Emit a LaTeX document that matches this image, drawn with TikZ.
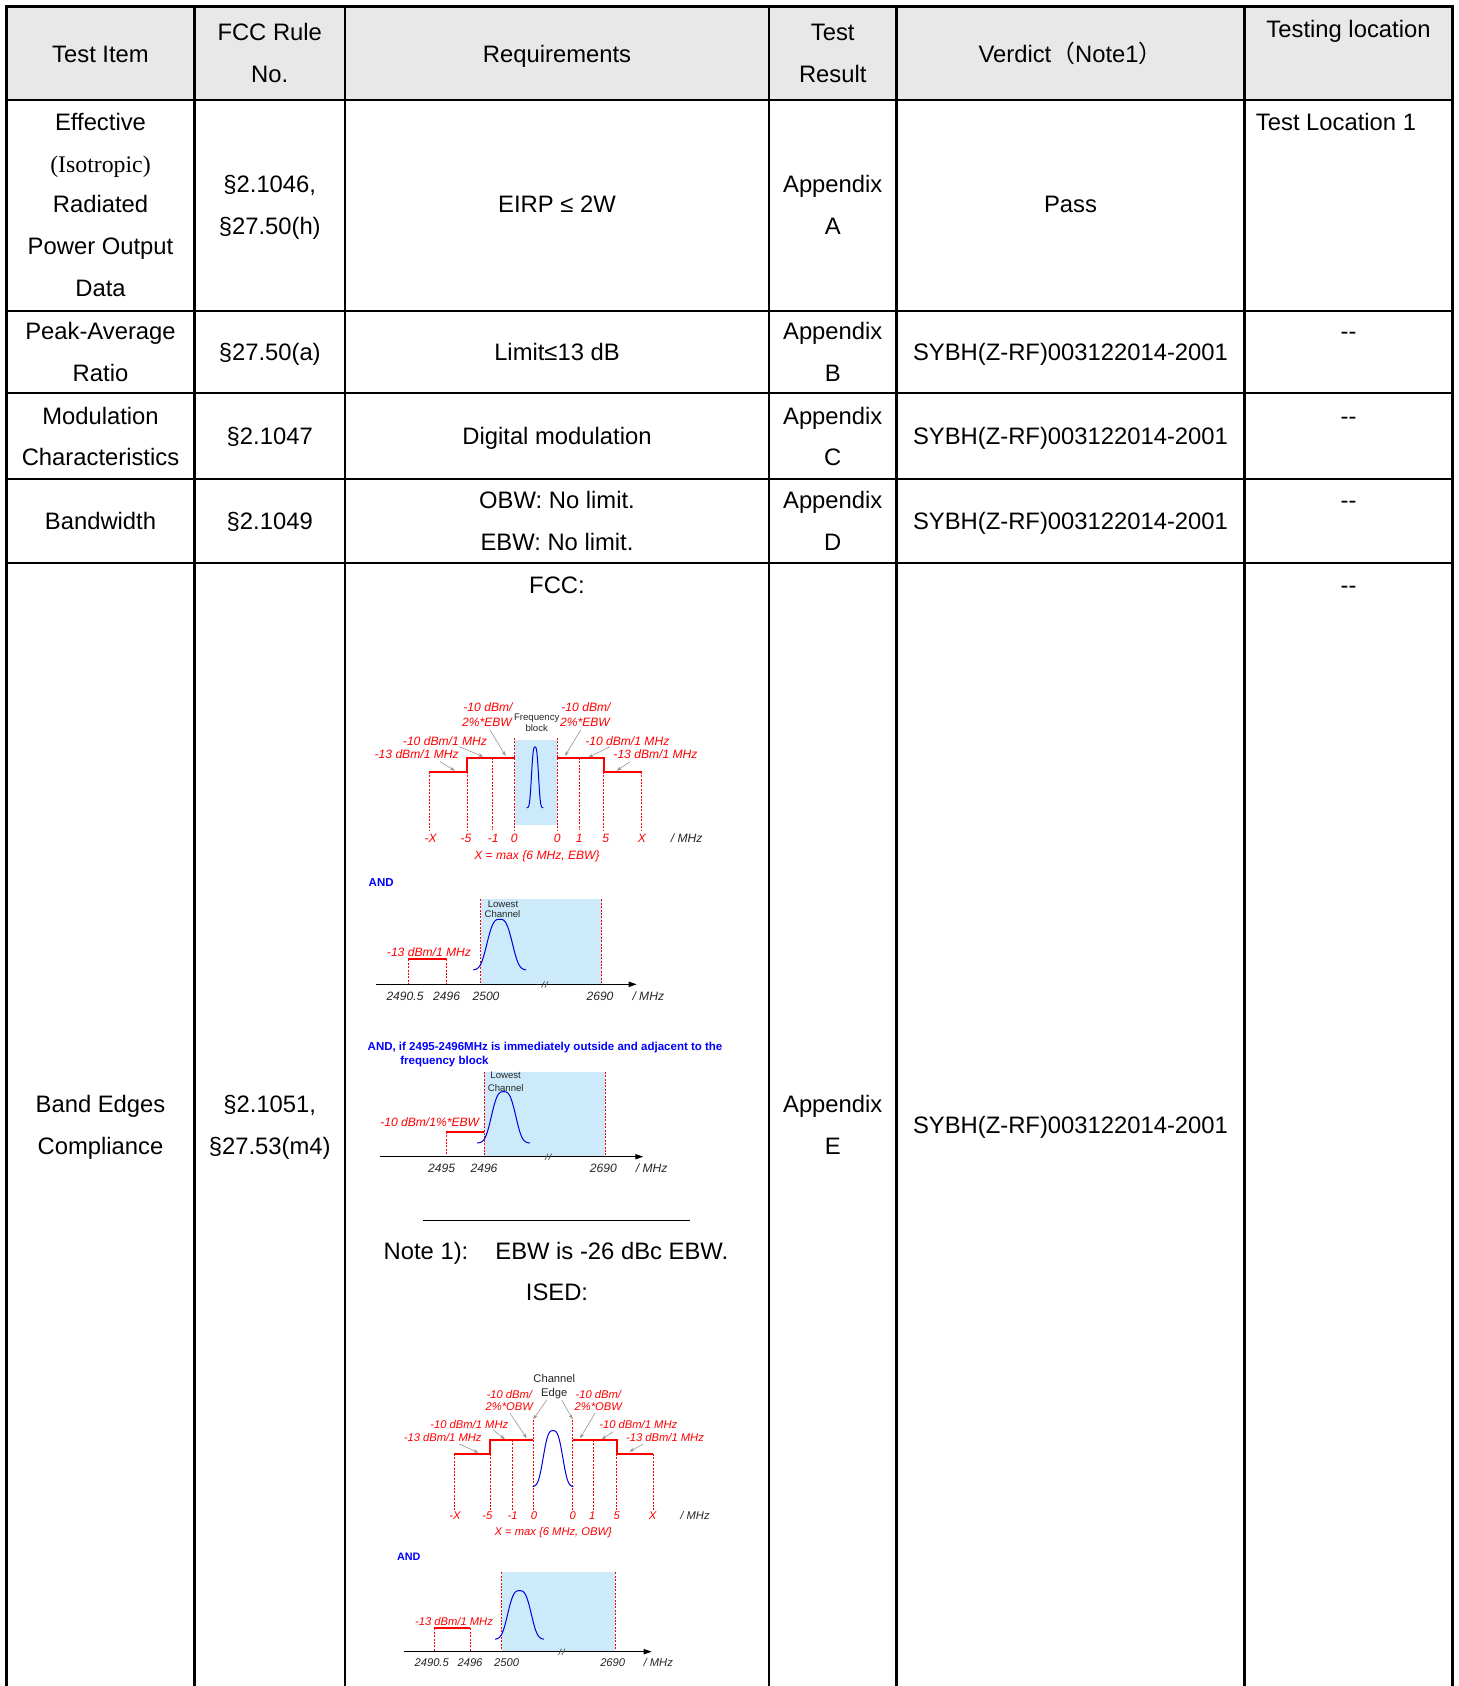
\documentclass[tikz,border=0pt]{standalone}
\usepackage{fontspec}
\setmainfont{Liberation Sans}
\newfontfamily\serifx{Liberation Serif}
\newfontfamily\cjk{Noto Sans CJK SC}
\usetikzlibrary{arrows.meta}
\definecolor{hdrgrey}{RGB}{232,232,232}
\definecolor{bandblue}{RGB}{204,234,250}
\definecolor{txtblue}{RGB}{0,0,255}
\definecolor{curveblue}{RGB}{0,0,220}
\definecolor{ptrgrey}{RGB}{150,150,150}
\tikzset{
  cell/.style={anchor=base, inner sep=0pt, font=\fontsize{11.9}{14}\selectfont},
  innerline/.style={line width=1.2pt, draw=black},
  outerline/.style={line width=1.8pt, draw=black, line join=miter},
  lblR/.style={anchor=base, inner sep=0pt, text=red, font=\fontsize{6.05}{7}\selectfont\itshape},
  lblK/.style={anchor=base, inner sep=0pt, text=black!85, font=\fontsize{6.05}{7}\selectfont\itshape},
  lblRs/.style={anchor=base, inner sep=0pt, text=red, font=\fontsize{5.6}{7}\selectfont\itshape},
  lblKs/.style={anchor=base, inner sep=0pt, text=black!85, font=\fontsize{5.6}{7}\selectfont\itshape},
  tinyK/.style={anchor=base, inner sep=0pt, text=black!85, font=\fontsize{4.8}{5}\selectfont},
  tinyKb/.style={anchor=base, inner sep=0pt, text=black!85, font=\fontsize{5.6}{6}\selectfont},
  andtxt/.style={anchor=base west, inner sep=0pt, text=txtblue, font=\fontsize{5.75}{6}\selectfont\bfseries},
  redstep/.style={draw=red, line width=0.85pt},
  reddash/.style={draw=red, line width=0.35pt, dash pattern=on 1pt off 0.7pt},
  curve/.style={draw=curveblue, line width=0.5pt},
  ptr/.style={draw=ptrgrey, line width=0.3pt, -{Stealth[length=2.5pt,width=1.8pt]}},
  axisline/.style={draw=black, line width=0.5pt, -{Triangle[length=4pt,width=2.6pt]}},
  brk/.style={draw=black!70, line width=0.35pt},
}
\begin{document}
\begin{tikzpicture}[x=0.5pt,y=-0.5pt]
\useasboundingbox (0,0) rectangle (1459,1686);
\fill[white] (0,0) rectangle (1459,1686);
% ---------------- table ----------------
\fill[hdrgrey] (6.5,6.5) rectangle (1452.5,100);
\foreach \yy in {100,311,393,479,563} \draw[innerline] (6.5,\yy) -- (1452.5,\yy);
\foreach \xx in {194.5,345,769,896.5,1244.5} \draw[innerline] (\xx,6.5) -- (\xx,1700);
\draw[outerline] (6.5,1700) -- (6.5,6.5) -- (1452.5,6.5) -- (1452.5,1700);
% header
\node[cell] (hA) at (100.5,62.7) {Test Item};
\node[cell] (hB1) at (269.75,41) {FCC Rule};
\node[cell] (hB2) at (269.75,83) {No.};
\node[cell] (hC) at (557,63) {Requirements};
\node[cell] (hD1) at (832.75,41) {Test};
\node[cell] (hD2) at (832.75,83) {Result};
\node[cell] (hE) at (1070.5,63) {Verdict{\cjk （}Note1{\cjk ）}};
\node[cell] (hF) at (1348.5,38) {Testing location};
% row 1
\node[cell] (r1a1) at (100.5,130.3) {Effective};
\node[cell] (r1a2) at (100.5,172.1) {\serifx (Isotropic)};
\node[cell] (r1a3) at (100.5,212.9) {Radiated};
\node[cell] (r1a4) at (100.5,254.7) {Power Output};
\node[cell] (r1a5) at (100.5,296.6) {Data};
\node[cell] (r1b1) at (269.75,192.5) {§2.1046,};
\node[cell] (r1b2) at (269.75,234) {§27.50(h)};
\node[cell] (r1c) at (557,213) {EIRP ≤ 2W};
\node[cell] (r1d1) at (832.75,192.5) {Appendix};
\node[cell] (r1d2) at (832.75,234) {A};
\node[cell] (r1e) at (1070.5,213) {Pass};
\node[cell] (r1f) at (1336,130.3) {Test Location 1};
% row 2
\node[cell] (r2a1) at (100.5,339.5) {Peak-Average};
\node[cell] (r2a2) at (100.5,381) {Ratio};
\node[cell] (r2b) at (269.75,360) {§27.50(a)};
\node[cell] (r2c) at (557,360) {Limit≤13 dB};
\node[cell] (r2d1) at (832.75,339.5) {Appendix};
\node[cell] (r2d2) at (832.75,381) {B};
\node[cell] (r2e) at (1070.5,360) {SYBH(Z-RF)003122014-2001};
\node[cell] (r2f) at (1348.5,339.5) {-{}-};
% row 3
\node[cell] (r3a1) at (100.5,424) {Modulation};
\node[cell] (r3a2) at (100.5,465) {Characteristics};
\node[cell] (r3b) at (269.75,444.6) {§2.1047};
\node[cell] (r3c) at (557,444.6) {Digital modulation};
\node[cell] (r3d1) at (832.75,424) {Appendix};
\node[cell] (r3d2) at (832.75,465) {C};
\node[cell] (r3e) at (1070.5,444.6) {SYBH(Z-RF)003122014-2001};
\node[cell] (r3f) at (1348.5,424) {-{}-};
% row 4
\node[cell] (r4a) at (100.5,529) {Bandwidth};
\node[cell] (r4b) at (269.75,529) {§2.1049};
\node[cell] (r4c1) at (557,508) {OBW: No limit.};
\node[cell] (r4c2) at (557,550) {EBW: No limit.};
\node[cell] (r4d1) at (832.75,508) {Appendix};
\node[cell] (r4d2) at (832.75,550) {D};
\node[cell] (r4e) at (1070.5,529) {SYBH(Z-RF)003122014-2001};
\node[cell] (r4f) at (1348.5,508) {-{}-};
% row 5
\node[cell] (r5c) at (557,593) {FCC:};
\node[cell] (r5f) at (1348.5,593) {-{}-};
\node[cell] (r5a1) at (100.5,1112) {Band Edges};
\node[cell] (r5a2) at (100.5,1154) {Compliance};
\node[cell] (r5b1) at (269.75,1112) {§2.1051,};
\node[cell] (r5b2) at (269.75,1154) {§27.53(m4)};
\node[cell] (r5d1) at (832.75,1112) {Appendix};
\node[cell] (r5d2) at (832.75,1154) {E};
\node[cell] (r5e) at (1070.5,1133) {SYBH(Z-RF)003122014-2001};
\draw[line width=0.5pt] (423.3,1220) -- (690,1220);
\node[cell, anchor=base west] (note1) at (383.3,1259) {Note 1):};
\node[cell, anchor=base west] (note2) at (495,1259) {EBW is -26 dBc EBW.};
\node[cell] (ised) at (557,1300) {ISED:};
% ---------------- diagram 1 (FCC mask) ----------------
\fill[bandblue] (515,740) rectangle (556.7,825);
\foreach \xx/\yt in {514.5/738,557/738,429.3/771.7,467.3/771.7,492.3/757.7,579/757.7,603.7/771.7,641.7/771.7}
  \draw[reddash] (\xx,\yt) -- (\xx,830);
\draw[redstep] (429.3,771.7) -- (467.3,771.7) -- (467.3,757.7) -- (514.5,757.7);
\draw[redstep] (557,757.7) -- (603.7,757.7) -- (603.7,771.7) -- (641.7,771.7);
\draw[curve] plot[domain=-8.3:8.3, samples=60] ({535+\x},{807.7-60.7*exp(-(abs(\x)/4.1)*(abs(\x)/4.1)*(abs(\x)/4.1))});
\node[lblR] (d1a) at (488,711.1) {-10 dBm/};
\node[lblR] (d1b) at (487,726.1) {2\%*EBW};
\node[lblR] (d1c) at (586,711.1) {-10 dBm/};
\node[lblR] (d1d) at (585,726.1) {2\%*EBW};
\node[tinyK] (d1e) at (536.7,720.2) {Frequency};
\node[tinyK] (d1f) at (536.7,731.8) {block};
\node[lblR] (d1g) at (445,745.1) {-10 dBm/1 MHz};
\node[lblR] (d1h) at (416.7,758.4) {-13 dBm/1 MHz};
\node[lblR] (d1i) at (627.3,745.1) {-10 dBm/1 MHz};
\node[lblR] (d1j) at (655.5,758.4) {-13 dBm/1 MHz};
\draw[ptr] (440,761.7) -- (455,770.7);
\draw[ptr] (459.3,746.7) -- (483.3,756.7);
\draw[ptr] (490,730) -- (505.7,756);
\draw[ptr] (580.7,730) -- (565,756);
\draw[ptr] (610,746.7) -- (588.3,757.3);
\draw[ptr] (630,761.7) -- (616.7,770.7);
\foreach \xx/\tt [count=\i] in {430.7/-X,466/-5,493.3/-1,514.3/0,557.3/0,579.3/1,605.7/5,642/X}
  \node[lblR] (d1x\i) at (\xx,842.7) {\tt};
\node[lblK] (d1u) at (686.7,842.7) {/ MHz};
\node[lblR] (d1m) at (537,859.4) {X = max \{6 MHz, EBW\}};
% ---------------- diagram 2 ----------------
\node[andtxt] (and1) at (368.3,886.4) {AND};
\fill[bandblue] (480.7,899.3) rectangle (601.7,984.3);
\draw[reddash] (480.7,899.3) -- (480.7,984.3);
\draw[reddash] (601.7,899.3) -- (601.7,984.3);
\draw[reddash] (408.3,959.3) -- (408.3,984.3);
\draw[reddash] (446.7,959.3) -- (446.7,984.3);
\draw[redstep] (408.3,959.3) -- (446.7,959.3);
\draw[axisline] (376,984.3) -- (636.7,984.3);
\draw[brk] (541.5,987.5) -- (544.5,981.3);
\draw[brk] (545,987.5) -- (548,981.3);
\draw[curve] plot[domain=-26.5:26.5, samples=80] ({499.7+\x},{970-50.7*exp(-(abs(\x)/14.7)*(abs(\x)/14.7)*(abs(\x)/14.7))});
\node[tinyK] (d2l1) at (503,907.5) {Lowest};
\node[tinyK] (d2l2) at (502.5,917.8) {Channel};
\node[lblR] (d2r) at (429,956.1) {-13 dBm/1 MHz};
\foreach \xx/\tt [count=\i] in {405/2490.5,446.7/2496,486/2500,600/2690,648.3/{/ MHz}}
  \node[lblK] (d2x\i) at (\xx,1000.4) {\tt};
% ---------------- diagram 3 ----------------
\node[andtxt] (and2a) at (367.3,1050.1) {AND, if 2495-2496MHz is immediately outside and adjacent to the};
\node[andtxt] (and2b) at (400,1064.1) {frequency block};
\fill[bandblue] (484,1071.7) rectangle (605,1156.7);
\draw[reddash] (484,1071.7) -- (484,1156.7);
\draw[reddash] (605,1071.7) -- (605,1156.7);
\draw[reddash] (446,1131.7) -- (446,1156.7);
\draw[redstep] (446,1131.7) -- (484,1131.7);
\draw[axisline] (380,1156.7) -- (643.3,1156.7);
\draw[brk] (545,1159.9) -- (548,1153.7);
\draw[brk] (548.5,1159.9) -- (551.5,1153.7);
\draw[curve] plot[domain=-26.4:26.4, samples=80] ({503.6+\x},{1143-51.3*exp(-(abs(\x)/14.1)*(abs(\x)/14.1)*(abs(\x)/14.1))});
\node[tinyK] (d3l1) at (505.7,1078.5) {Lowest};
\node[tinyK] (d3l2) at (505.7,1091.2) {Channel};
\node[lblR] (d3r) at (429.7,1126.1) {-10 dBm/1\%*EBW};
\foreach \xx/\tt [count=\i] in {441.7/2495,484/2496,603.3/2690,651.7/{/ MHz}}
  \node[lblK] (d3x\i) at (\xx,1172.7) {\tt};
% ---------------- diagram 4 (ISED mask) ----------------
\foreach \xx/\yt in {533.3/1420,572.7/1420,454/1454,490/1454,512.7/1440,593.3/1440,616.7/1454,653.3/1454}
  \draw[reddash] (\xx,\yt) -- (\xx,1510);
\draw[redstep] (454,1454) -- (490,1454) -- (490,1440) -- (533.3,1440);
\draw[redstep] (572.7,1440) -- (616.7,1440) -- (616.7,1454) -- (653.3,1454);
\draw[curve] plot[domain=-20.3:20.3, samples=80] ({553+\x},{1486.7-56*exp(-(abs(\x)/11.3)*(abs(\x)/11.3)*(abs(\x)/11.3))});
\node[tinyKb] (d4c1) at (554.3,1382.3) {Channel};
\node[tinyKb] (d4c2) at (554.3,1396.3) {Edge};
\node[lblRs] (d4a) at (509.3,1398.3) {-10 dBm/};
\node[lblRs] (d4b) at (509.3,1410.7) {2\%*OBW};
\node[lblRs] (d4c) at (598.3,1398.3) {-10 dBm/};
\node[lblRs] (d4d) at (598.3,1410.7) {2\%*OBW};
\node[lblRs] (d4g) at (469.3,1428) {-10 dBm/1 MHz};
\node[lblRs] (d4h) at (442.7,1441.3) {-13 dBm/1 MHz};
\node[lblRs] (d4i) at (638.3,1428) {-10 dBm/1 MHz};
\node[lblRs] (d4j) at (665,1441.3) {-13 dBm/1 MHz};
\draw[ptr] (546.7,1400) -- (533.3,1419.3);
\draw[ptr] (561.7,1400) -- (572.7,1419.3);
\draw[ptr] (510,1413.3) -- (526.7,1438.3);
\draw[ptr] (595,1413.3) -- (580,1438.3);
\draw[ptr] (493.3,1430) -- (505,1439.3);
\draw[ptr] (613.3,1431.7) -- (601.7,1439.3);
\draw[ptr] (459.3,1444) -- (478.3,1452.7);
\draw[ptr] (643.3,1444) -- (629.3,1451.7);
\foreach \xx/\tt [count=\i] in {455/-X,487.3/-5,512.7/-1,534/0,572.7/0,592.3/1,616.7/5,652.7/X}
  \node[lblRs] (d4x\i) at (\xx,1519) {\tt};
\node[lblKs] (d4u) at (695,1519) {/ MHz};
\node[lblRs] (d4m) at (553.3,1535.7) {X = max \{6 MHz, OBW\}};
% ---------------- diagram 5 ----------------
\node[andtxt, font=\fontsize{5.4}{6}\selectfont\bfseries] (and3) at (396.7,1560) {AND};
\fill[bandblue] (501.7,1572.3) rectangle (615,1651.7);
\draw[reddash] (501.7,1572.3) -- (501.7,1651.7);
\draw[reddash] (615,1572.3) -- (615,1651.7);
\draw[reddash] (434.3,1628.3) -- (434.3,1651.7);
\draw[reddash] (470,1628.3) -- (470,1651.7);
\draw[redstep] (434.3,1628.3) -- (470,1628.3);
\draw[axisline] (404,1651.7) -- (651.7,1651.7);
\draw[brk] (558.5,1654.9) -- (561.5,1648.7);
\draw[brk] (562,1654.9) -- (565,1648.7);
\draw[curve] plot[domain=-24.5:24.5, samples=80] ({519.5+\x},{1639.3-48.6*exp(-(abs(\x)/13.6)*(abs(\x)/13.6)*(abs(\x)/13.6))});
\node[lblRs] (d5r) at (454,1625.7) {-13 dBm/1 MHz};
\foreach \xx/\tt [count=\i] in {431.7/2490.5,470/2496,506.7/2500,612.7/2690,658.3/{/ MHz}}
  \node[lblKs] (d5x\i) at (\xx,1666.7) {\tt};
\end{tikzpicture}
\end{document}
